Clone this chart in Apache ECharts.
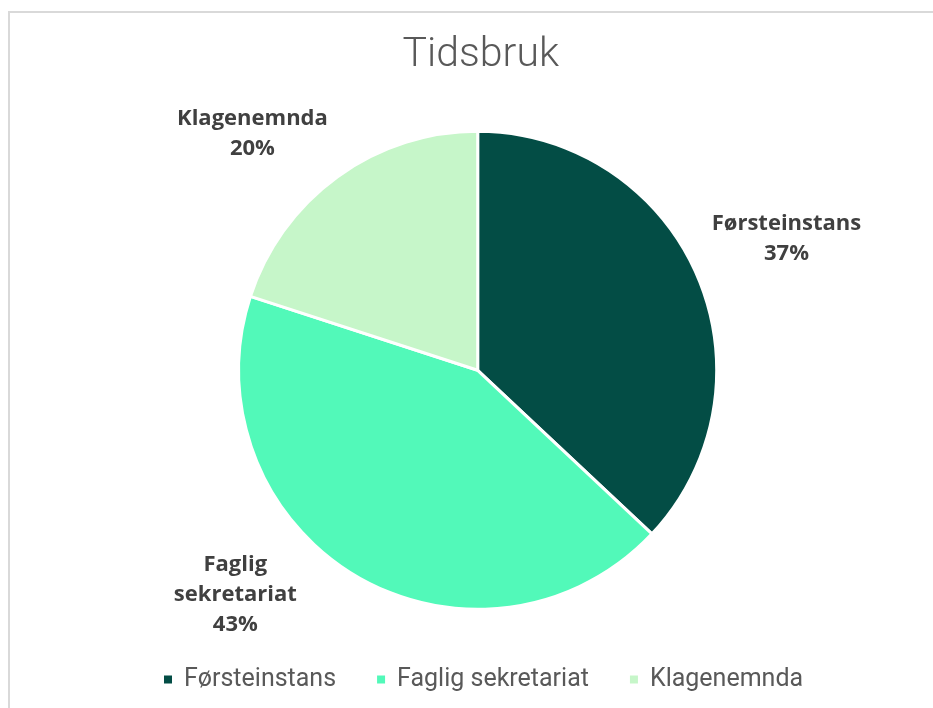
<!DOCTYPE html>
<html>
<head>
<meta charset="utf-8">
<script src="https://cdn.jsdelivr.net/npm/echarts@6/dist/echarts.min.js"></script>
<style>
  html, body { margin: 0; padding: 0; background: #fff; }
  #main { width: 933px; height: 708px; }
</style>
</head>
<body>
<div id="main"></div>
<script>
// data
const categories = ['Førsteinstans', 'Faglig sekretariat', 'Klagenemnda'];
const values = [37, 43, 20];
const colors = ['#034d45', '#52f9b9', '#c6f6c9'];

const CENTER = [0.512, 0.523];
const RADIUS = 239;

var chart = echarts.init(document.getElementById('main'));

var total = values.reduce((a, b) => a + b, 0);

// place labels outside the slice, roughly like Excel's "best fit"
function placeLabel(p) {
    const W = chart.getWidth(), H = chart.getHeight();
    const cx = W * CENTER[0], cy = H * CENTER[1];
    let before = 0;
    for (let i = 0; i < p.dataIndex; i++) before += values[i];
    const mid = (before + values[p.dataIndex] / 2) / total * 2 * Math.PI;
    const dx = Math.sin(mid), dy = -Math.cos(mid);
    const d = RADIUS + 16;
    const ax = cx + dx * d, ay = cy + dy * d;
    const w = p.labelRect.width, h = p.labelRect.height;
    let x = dx >= 0 ? ax + w / 2 : ax - w / 2;
    let y = dy >= 0 ? ay + h / 2 : ay - h / 2;
    const bottom = H - 68, top = 85;
    if (y + h / 2 > bottom) y = bottom - h / 2;
    if (y - h / 2 < top) y = top + h / 2;
    // nearest corner must stay outside the pie
    const ry = (dy >= 0 ? y - h / 2 : y + h / 2) - cy;
    if (Math.abs(ry) < d) {
        const need = Math.sqrt(d * d - ry * ry);
        const cornerX = dx >= 0 ? x - w / 2 : x + w / 2;
        if (Math.abs(cornerX - cx) < need) {
            x = dx >= 0 ? cx + need + w / 2 : cx - need - w / 2;
        }
    }
    return { x: x, y: y, align: 'center', verticalAlign: 'middle' };
}

var option = {
    backgroundColor: '#fff',
    color: colors,
    animation: false,
    graphic: [{
        type: 'rect',
        z: -1,
        shape: { x: 9, y: 12, width: 940, height: 720 },
        style: { fill: 'none', stroke: '#d9d9d9', lineWidth: 2 }
    }],
    title: {
        text: 'Tidsbruk',
        left: '51.0%',
        textAlign: 'center',
        top: 30,
        textStyle: {
            fontFamily: 'Roboto',
            fontWeight: 300,
            fontSize: 41,
            color: '#595959'
        }
    },
    legend: {
        bottom: 11,
        left: 157,
        icon: 'rect',
        itemWidth: 10,
        itemHeight: 10,
        itemGap: 39,
        data: categories,
        textStyle: {
            fontFamily: 'Roboto',
            fontSize: 25,
            color: '#595959',
            padding: [0, 0, 0, 6]
        }
    },
    series: [{
        type: 'pie',
        center: [(CENTER[0] * 100) + '%', (CENTER[1] * 100) + '%'],
        radius: RADIUS,
        startAngle: 90,
        clockwise: true,
        itemStyle: { borderColor: '#fff', borderWidth: 3 },
        label: {
            show: true,
            position: 'outside',
            fontFamily: 'Open Sans',
            fontWeight: 'bold',
            fontSize: 22,
            lineHeight: 30,
            color: '#404040',
            formatter: function (p) {
                return p.name.replace(' ', '\n') + '\n' + p.percent + '%';
            }
        },
        labelLine: { show: false },
        labelLayout: placeLabel,
        emphasis: { disabled: true },
        data: categories.map((c, i) => ({ name: c, value: values[i] }))
    }]
};

chart.setOption(option);
</script>
</body>
</html>
